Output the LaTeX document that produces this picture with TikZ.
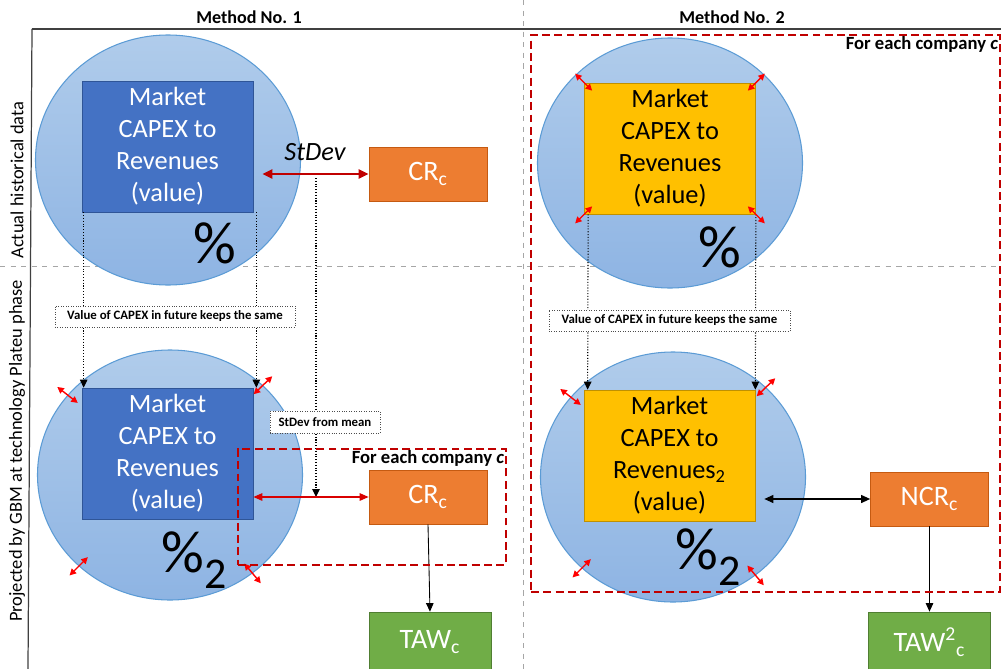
\documentclass[tikz,border=0pt]{standalone}
\usepackage{fontspec}
\setmainfont{Carlito}
\usepackage{tikz}
\usetikzlibrary{positioning}
\usetikzlibrary{arrows.meta}
\usetikzlibrary{shapes.geometric}
\usetikzlibrary{calc}

\definecolor{circtop}{HTML}{B0CCEB}
\definecolor{circbot}{HTML}{8EB4E3}
\definecolor{circedge}{HTML}{5B9BD5}
\definecolor{mktblue}{HTML}{4472C4}
\definecolor{mktblueedge}{HTML}{2F5597}
\definecolor{mktyellow}{HTML}{FFC000}
\definecolor{mktyellowedge}{HTML}{BF9000}
\definecolor{crorange}{HTML}{ED7D31}
\definecolor{crorangeedge}{HTML}{C55A11}
\definecolor{tawgreen}{HTML}{70AD47}
\definecolor{tawgreenedge}{HTML}{507E32}
\definecolor{grpred}{HTML}{C00000}
\definecolor{tipred}{HTML}{FF0000}

\newcommand{\mkttext}[1]{Market\\CAPEX to\\#1\\(value)}
\newcommand{\pct}{{\fontsize{34}{34}\selectfont\%}}
\newcommand{\pcttwo}{{\fontsize{34}{34}\selectfont\%}{\fontsize{25}{25}\selectfont\raisebox{-9pt}{2}}}

\tikzset{
    circ/.style={ellipse, draw=circedge, line width=0.6pt, top color=circtop, bottom color=circbot,
        minimum width=53mm, minimum height=50mm, inner sep=0pt},
    mktbox/.style={rectangle, minimum width=34.2mm, minimum height=26.2mm, inner sep=0pt,
        align=center, font=\fontsize{15}{18.2}\selectfont},
    mktblue/.style={mktbox, fill=mktblue, draw=mktblueedge, text=white},
    mktyellow/.style={mktbox, fill=mktyellow, draw=mktyellowedge, text=black},
    crbox/.style={rectangle, fill=crorange, draw=crorangeedge, text=white, minimum width=23.6mm,
        minimum height=10.8mm, inner sep=0pt, font=\fontsize{16}{18}\selectfont},
    tawbox/.style={rectangle, fill=tawgreen, draw=tawgreenedge, text=white, minimum width=24.4mm,
        minimum height=12mm, inner sep=0pt, font=\fontsize{16}{18}\selectfont},
    notebox/.style={rectangle, fill=white, draw=black!70, densely dotted, inner sep=0pt,
        font=\fontsize{7.3}{8}\selectfont\bfseries},
    grpbox/.style={rectangle, draw=grpred, line width=1.3pt, dash pattern=on 4.5pt off 2.5pt, inner sep=0pt},
    grplabel/.style={font=\fontsize{10.6}{12}\selectfont\bfseries, inner sep=1.5pt},
    title/.style={font=\fontsize{10.3}{12}\selectfont\bfseries},
    sidelabel/.style={rotate=90, font=\fontsize{10.5}{12}\selectfont},
    gridline/.style={draw=black!35, dashed, line width=0.5pt},
    frameline/.style={draw=black!75, line width=0.7pt},
    carry/.style={densely dotted, line width=0.6pt, -{Triangle[length=1.6mm, width=1.5mm]}},
    flow/.style={line width=0.5pt, -{Triangle[length=1.7mm, width=1.5mm]}},
    spread/.style={tipred, line width=0.8pt, {Triangle[length=1.3mm, width=1.3mm]}-{Triangle[length=1.3mm, width=1.3mm]}}
}

\begin{document}
\begin{tikzpicture}[x=0.2mm, y=-0.2mm]
    \useasboundingbox (0,0) rectangle (1001,669);

    % frame
    \draw[gridline] (523,0) -- (523,669);
    \draw[gridline] (0,266) -- (1001,266);
    \draw[frameline] (32,29) -- (1001,29);
    \draw[frameline] (32,29) -- (28,669);

    \node[title] (meth1) at (249,17) {Method No. 1};
    \node[title] (meth2) at (732,17) {Method No. 2};
    \node[sidelabel] (hist) at (17,180) {Actual historical data};
    \node[sidelabel] (proj) at (17,451) {Projected by GBM at technology Plateu phase};

    % circles
    \node[circ] (circ1) at (168,160) {};
    \node[circ] (circ2) at (170,475) {};
    \node[circ] (circ3) at (670,163) {};
    \node[circ] (circ4) at (673,477) {};

    % market boxes
    \node[mktblue] (mkt1) at (167.5,146.5) {\mkttext{Revenues}};
    \node[mktblue] (mkt2) at (167.5,453.5) {\mkttext{Revenues}};
    \node[mktyellow] (mkt3) at (670,148.5) {\mkttext{Revenues}};
    \node[mktyellow] (mkt4) at (669.5,455.5) {\mkttext{Revenues\textsubscript{2}}};

    \node (pct1) at (215,243) {\pct};
    \node (pct2) at (194,560) {\pcttwo};
    \node (pct3) at (720,247) {\pct};
    \node (pct4) at (708,557) {\pcttwo};

    % company boxes
    \node[crbox] (cr1) at (428,174) {CR\textsubscript{c}};
    \node[crbox] (cr2) at (428,497) {CR\textsubscript{c}};
    \node[tawbox] (taw1) at (430,642) {TAW\textsubscript{c}};
    \node[crbox] (ncr) at (929.5,499) {NCR\textsubscript{c}};
    \node[tawbox] (taw2) at (929.5,642) {TAW\textsuperscript{2}\textsubscript{c}};

    % StDev
    \draw[grpred, line width=1.2pt, {Triangle[length=2mm, width=1.8mm]}-{Triangle[length=2mm, width=1.8mm]}]
        ([xshift=1.8mm]mkt1.east |- cr1.west) -- (cr1.west);
    \node[font=\fontsize{15}{18}\selectfont\itshape] (sdev) at (315,152) {StDev};
    \coordinate (sdtop) at (316,178);
    \draw[carry] (sdtop) -- (sdtop |- cr2.west);
    \draw[tipred!85!black, line width=0.7pt, {Triangle[length=1.8mm, width=1.5mm]}-{Triangle[length=1.8mm, width=1.5mm]}]
        (mkt2.east |- cr2.west) -- (cr2.west);
    \draw[line width=0.6pt, {Triangle[length=1.8mm, width=1.6mm]}-{Triangle[length=1.8mm, width=1.6mm]}]
        ([xshift=1.8mm]mkt4.east |- ncr.west) -- (ncr.west);

    % carried into the future
    \draw[carry] ([xshift=0.4mm]mkt1.south west) -- ([xshift=0.4mm]mkt2.north west);
    \draw[carry] ([xshift=0.6mm]mkt1.south east) -- ([xshift=0.6mm]mkt2.north east);
    \draw[carry] ([xshift=0.8mm]mkt3.south west) -- ([xshift=0.8mm]mkt4.north west);
    \draw[carry] (mkt3.south east) -- (mkt4.north east);
    \node[notebox, minimum width=48mm, minimum height=4.2mm] (note1) at (175,316.5) {Value of CAPEX in future keeps the same};
    \node[notebox, minimum width=48.2mm, minimum height=4.2mm] (note2) at (669.5,320.5) {Value of CAPEX in future keeps the same};
    \node[notebox, minimum width=22mm, minimum height=4.4mm] (note3) at (325,422) {StDev from mean};

    \draw[flow] (cr2.south) -- (taw1.north);
    \draw[flow] (ncr.south) -- (taw2.north);

    % spread of the value
    \foreach \anc/\dx/\dy in {north west/-1/-1, north east/1/-1, south west/-1/1, south east/1/1}
        \draw[spread] ([shift={(-8*\dx,-8*\dy)}]mkt3.\anc) -- ([shift={(9*\dx,9*\dy)}]mkt3.\anc);
    \foreach \a in {142,44,225,310} {
        \draw[spread] ($(circ2.center)!0.9!(circ2.\a)$) -- ($(circ2.center)!1.1!(circ2.\a)$);
        \draw[spread] ($(circ4.center)!0.9!(circ4.\a)$) -- ($(circ4.center)!1.1!(circ4.\a)$);
    }

    % for each company
    \node[grpbox, minimum width=53.6mm, minimum height=23.2mm] (grp1) at (372,507) {};
    \node[grplabel, anchor=north east] (grp1lab) at (grp1.north east) {For each company \textit{c}};
    \node[grpbox, minimum width=93.8mm, minimum height=111.4mm] (grp2) at (765.5,313.5) {};
    \node[grplabel, anchor=north east] (grp2lab) at (grp2.north east) {For each company \textit{c}};
\end{tikzpicture}
\end{document}
